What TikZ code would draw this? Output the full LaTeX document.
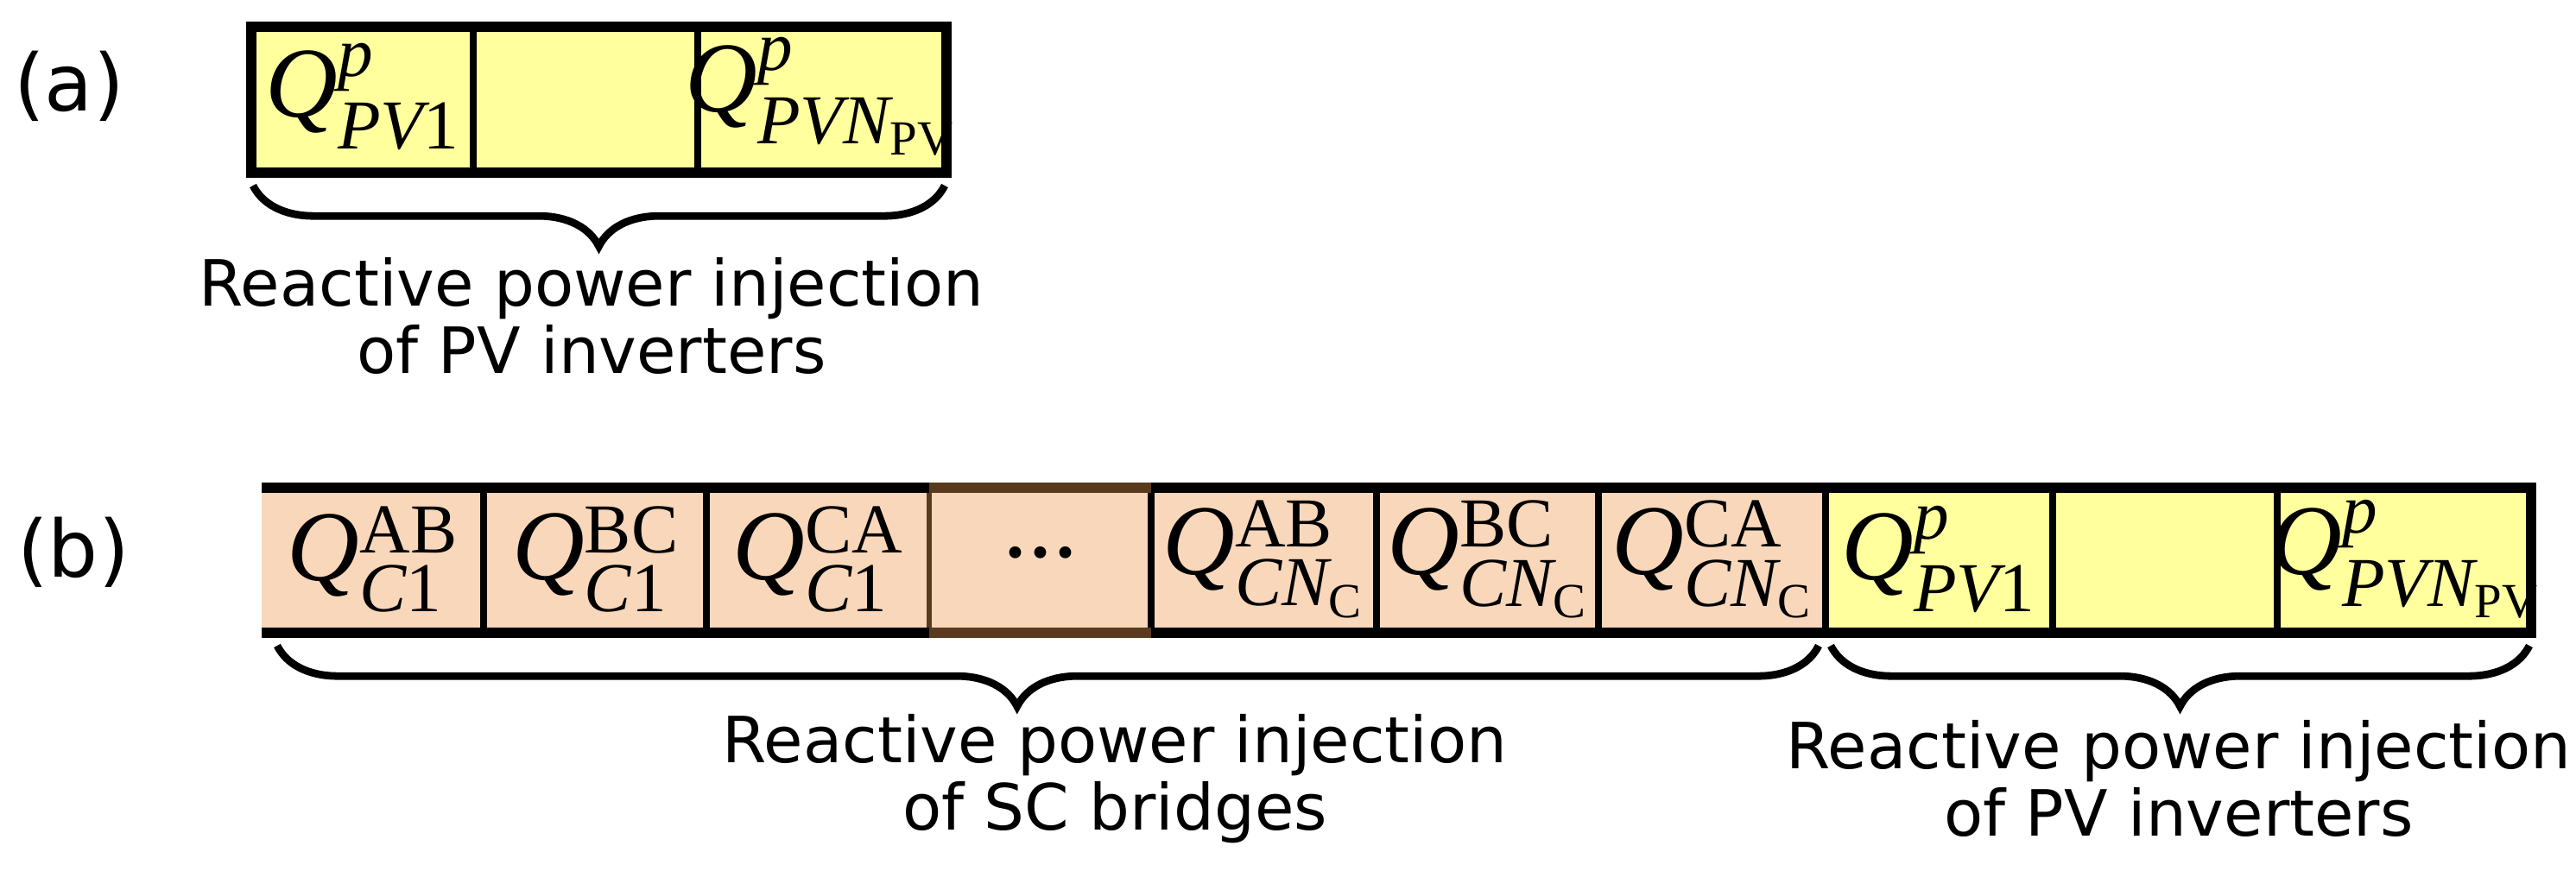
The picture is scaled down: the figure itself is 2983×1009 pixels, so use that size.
\documentclass[tikz,border=0pt]{standalone}
\usepackage{amsmath}
\usepackage{fontspec}
\setmainfont{DejaVu Sans}
\newfontfamily\tms{Liberation Serif}
\newcommand\QQ[2]{{\tms\itshape Q}$^{\text{\tms #1}}_{\text{\tms #2}}$}
\usetikzlibrary{decorations.pathreplacing}
\definecolor{pvy}{HTML}{FFFF9E}
\definecolor{scp}{HTML}{F9D7BA}
\definecolor{dotb}{HTML}{5A3A1E}
\begin{document}
\begin{tikzpicture}[x=0.01cm,y=-0.01cm,
  cell/.style={draw=black,line width=2.2pt},
  frame/.style={draw=black,line width=3.6pt},
  q/.style={font=\fontsize{33}{36}\selectfont,inner sep=0pt},
  lbl/.style={font=\fontsize{21}{22}\selectfont,align=center},
  tag/.style={font=\fontsize{26}{30}\selectfont},
  br/.style={decorate,decoration={brace,mirror,amplitude=20pt,aspect=0.5},line width=2.5pt}]
\useasboundingbox (0,0) rectangle (2983,1009);
% (a)
\node[tag] (ta) at (80,100) {(a)};
\fill[pvy] (291,31) rectangle (1096,200);
\draw[cell] (548,31) -- (548,200) (808,31) -- (808,200);
\draw[frame] (291,31) rectangle (1096,200);
\node[q] (a1) at (420,112) {\QQ{\itshape p}{\itshape PV\upshape 1}};
\node[q] (a3) at (950,112) {\QQ{\itshape p}{\itshape PVN$_{\text{\tms\upshape PV}}$}};
\coordinate (abl) at (293,215);
\coordinate (abr) at (1094,215);
\draw[br] (abl) -- (abr);
\node[lbl] (la) at (685,366) {Reactive power injection\\of PV inverters};
% (b)
\node[tag] (tb) at (85,640) {(b)};
\fill[scp] (303,565) rectangle (2114,733);
\fill[pvy] (2114,565) rectangle (2931,733);
\draw[cell] (560,565) -- (560,733) (818,565) -- (818,733) (1851,565) -- (1851,733)
  (2114,565) -- (2114,733) (2377,565) -- (2377,733) (2637,565) -- (2637,733);
\draw[dotb,line width=1.6pt] (1076,565) rectangle (1333,733);
\draw[cell] (1333,565) -- (1333,733) (1594,565) -- (1594,733);
\draw[frame] (303,565) -- (1076,565) (1333,565) -- (2931,565) -- (2931,733) -- (1333,733)
  (1076,733) -- (303,733) -- cycle;
\draw[dotb,line width=3.6pt] (1076,565) -- (1333,565) (1076,733) -- (1333,733);
\node[q] (b1) at (432,648) {\QQ{AB}{\itshape C\upshape 1}};
\node[q] (b2) at (690,648) {\QQ{BC}{\itshape C\upshape 1}};
\node[q] (b3) at (948,648) {\QQ{CA}{\itshape C\upshape 1}};
\node[q] (b4) at (1205,640) {\tms ...};
\node[q] (b5) at (1463,648) {\QQ{AB}{\itshape CN$_{\text{\tms\upshape C}}$}};
\node[q] (b6) at (1723,648) {\QQ{BC}{\itshape CN$_{\text{\tms\upshape C}}$}};
\node[q] (b7) at (1983,648) {\QQ{CA}{\itshape CN$_{\text{\tms\upshape C}}$}};
\node[q] (b8) at (2245,648) {\QQ{\itshape p}{\itshape PV\upshape 1}};
\node[q] (b10) at (2785,648) {\QQ{\itshape p}{\itshape PVN$_{\text{\tms\upshape PV}}$}};
\coordinate (b1l) at (321,748);
\coordinate (b1r) at (2106,748);
\coordinate (b2l) at (2120,748);
\coordinate (b2r) at (2929,748);
\draw[br,decoration={aspect=0.48}] (b1l) -- (b1r);
\draw[br] (b2l) -- (b2r);
\node[lbl] (lb1) at (1291,902) {Reactive power injection\\of SC bridges};
\node[lbl] (lb2) at (2523,902) {Reactive power injection\\of PV inverters};
\end{tikzpicture}
\end{document}
